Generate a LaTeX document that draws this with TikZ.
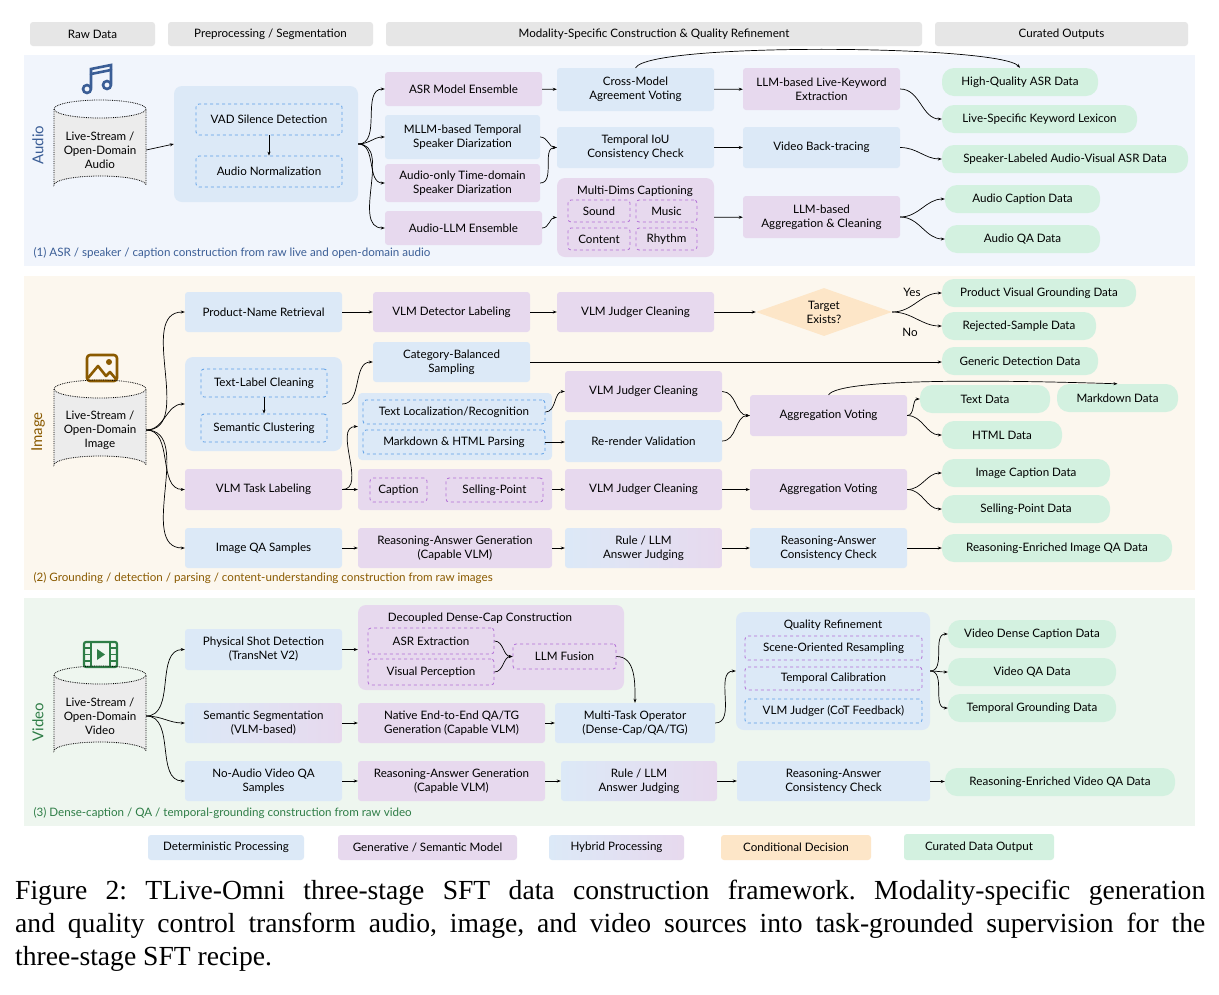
\documentclass[tikz,border=0pt]{standalone}
\usepackage{fontspec}
\setmainfont{Lato}
\newfontfamily\capfont{Liberation Serif}
\usetikzlibrary{shapes.geometric,arrows.meta}
\definecolor{blueF}{HTML}{DCE9F7}
\definecolor{purpF}{HTML}{E7D9EE}
\definecolor{greenF}{HTML}{D3F1E0}
\definecolor{orangeF}{HTML}{FDE6C8}
\definecolor{grayF}{HTML}{E6E6E6}
\definecolor{audBG}{HTML}{F1F5FC}
\definecolor{imgBG}{HTML}{FCF7EE}
\definecolor{vidBG}{HTML}{EEF6EF}
\definecolor{dashB}{HTML}{5B9EE6}
\definecolor{dashP}{HTML}{B26ED6}
\definecolor{audC}{HTML}{3B5E96}
\definecolor{imgC}{HTML}{8A5A00}
\definecolor{vidC}{HTML}{2E7D46}
\newcommand\Bx[7]{\pgfmathsetmacro\bxcx{(#3+#5)/2}\pgfmathsetmacro\bxcy{(#4+#6)/2}\pgfmathsetmacro\bxw{#5-#3}\pgfmathsetmacro\bxh{#6-#4}\node[#1,minimum width=\bxw pt,minimum height=\bxh pt] (#2) at (\bxcx,\bxcy) {#7};}
\tikzset{
 base/.style={rectangle,rounded corners=3pt,inner sep=0pt,align=center,font=\fontsize{11.6}{14}\selectfont},
 det/.style={base,fill=blueF},
 gen/.style={base,fill=purpF},
 hyb/.style={base,left color=blueF,right color=purpF},
 outp/.style={base,fill=greenF,rounded corners=12pt},
 hdr/.style={base,fill=grayF},
 dB/.style={base,draw=dashB,dashed,line width=0.8pt},
 dP/.style={base,draw=dashP,dashed,line width=0.8pt},
 cont/.style={base,rounded corners=8pt},
 ar/.style={-{Stealth[length=4pt,width=3pt]},line width=0.7pt,black},
 cv/.style={ar,out=0,in=180},
 side/.style={font=\fontsize{15}{15}\selectfont,rotate=90},
 tag/.style={anchor=west,font=\fontsize{11.6}{13}\selectfont},
}
\newcommand\Cyl[4]{% name, cx, cy, text
 \fill[gray!15] (#2-46,#3-38) -- (#2-46,#3+38) arc[start angle=180,end angle=360,x radius=46,y radius=9] -- (#2+46,#3-38) arc[start angle=0,end angle=180,x radius=46,y radius=9];
 \draw[densely dotted,line width=0.8pt] (#2-46,#3-38) -- (#2-46,#3+38) arc[start angle=180,end angle=360,x radius=46,y radius=9] -- (#2+46,#3-38);
 \draw[densely dotted,line width=0.8pt] (#2,#3-38) ellipse[x radius=46,y radius=9];
 \node[base,minimum width=92pt,minimum height=80pt] (#1) at (#2,#3+3) {#4};}
\begin{document}
\begin{tikzpicture}[x=1pt,y=-1pt]
\useasboundingbox[fill=white] (0,0) rectangle (1219,994);
% headers
\Bx{hdr}{h1}{30}{22}{155}{46}{Raw Data}
\Bx{hdr}{h2}{168}{22}{373}{46}{Preprocessing / Segmentation}
\Bx{hdr}{h3}{386}{22}{922}{46}{Modality-Specific Construction \& Quality Refinement}
\Bx{hdr}{h4}{935}{22}{1188}{46}{Curated Outputs}
% panels
\fill[audBG] (24,55) rectangle (1195,266);
\fill[imgBG] (24,276) rectangle (1195,590);
\fill[vidBG] (24,598) rectangle (1195,826);
\node[side,text=audC] at (38,145) {Audio};
\node[side,text=imgC] at (38,432) {Image};
\node[side,text=vidC] at (38,722) {Video};
\node[tag,text=audC] at (30,253) {(1) ASR / speaker / caption construction from raw live and open-domain audio};
\node[tag,text=imgC] at (30,578) {(2) Grounding / detection / parsing / content-understanding construction from raw images};
\node[tag,text=vidC] at (30,813) {(3) Dense-caption / QA / temporal-grounding construction from raw video};
% icons
\begin{scope}[audC,line width=2.6pt,line cap=round]
 \draw (91,88) -- (91,69) -- (111,65) -- (111,84);
 \draw (91,74) -- (111,70);
 \draw (87,89) circle[radius=4];
 \draw (107,85) circle[radius=4];
\end{scope}
\begin{scope}[imgC,line width=2.6pt,line join=round]
 \draw[rounded corners=3pt] (87,355) rectangle (117,381);
 \draw (88,378) -- (98,366) -- (106,376) -- (110,372) -- (116,379);
 \fill (109,362) circle[radius=3];
\end{scope}
\begin{scope}[vidC,line width=2.2pt]
 \draw[rounded corners=2pt] (84,642) rectangle (117,667);
 \draw (91,642) -- (91,667) (110,642) -- (110,667);
 \draw[line width=1.4pt] (84,648)--(91,648) (84,654.5)--(91,654.5) (84,661)--(91,661) (110,648)--(117,648) (110,654.5)--(117,654.5) (110,661)--(117,661);
 \fill (97,649) -- (105,654.5) -- (97,660) -- cycle;
\end{scope}
% ---------- AUDIO ----------
\Cyl{ac}{100}{147}{Live-Stream /\\Open-Domain\\Audio}
\Bx{cont,fill=blueF}{pre}{174}{86}{358}{202}{}
\Bx{dB}{vad}{196}{104}{342}{135}{VAD Silence Detection}
\Bx{dB}{norm}{196}{156}{342}{187}{Audio Normalization}
\Bx{gen}{asr}{385}{72}{542}{106}{ASR Model Ensemble}
\Bx{det}{mllm}{385}{115}{540}{159}{MLLM-based Temporal\\Speaker Diarization}
\Bx{gen}{aonly}{385}{164}{540}{202}{Audio-only Time-domain\\Speaker Diarization}
\Bx{gen}{allm}{385}{211}{542}{245}{Audio-LLM Ensemble}
\Bx{det}{cross}{557}{68}{714}{111}{Cross-Model\\Agreement Voting}
\Bx{det}{tiou}{557}{127}{714}{168}{Temporal IoU\\Consistency Check}
\Bx{cont,fill=purpF}{mdc}{557}{178}{714}{257}{}
\node[base] at (635,191) {Multi-Dims Captioning};
\Bx{dP}{snd}{568}{200}{630}{222}{Sound}
\Bx{dP}{mus}{636}{200}{697}{222}{Music}
\Bx{dP}{cnt}{568}{228}{630}{250}{Content}
\Bx{dP}{rhy}{636}{228}{697}{250}{Rhythm}
\Bx{gen}{kw}{743}{68}{900}{110}{LLM-based Live-Keyword\\Extraction}
\Bx{det}{vbt}{743}{127}{900}{168}{Video Back-tracing}
\Bx{gen}{agg}{743}{196}{900}{238}{LLM-based\\Aggregation \& Cleaning}
\Bx{outp}{hq}{942}{68}{1098}{96}{High-Quality ASR Data}
\Bx{outp}{lex}{942}{105}{1137}{133}{Live-Specific Keyword Lexicon}
\Bx{outp}{spk}{942}{145}{1188}{173}{Speaker-Labeled Audio-Visual ASR Data}
\Bx{outp}{acap}{945}{185}{1100}{213}{Audio Caption Data}
\Bx{outp}{aqa}{945}{225}{1100}{253}{Audio QA Data}
\draw[ar] (ac.east) -- (pre.west);
\draw[ar] (vad.south) -- (norm.north);
\foreach \t in {asr,mllm,aonly,allm} \draw[cv] (pre.east) to (\t.west);
\draw[ar] (asr) -- (cross);
\draw[cv] (mllm.east) to (tiou.west);
\draw[cv] (aonly.east) to (tiou.west);
\draw[cv] (allm.east) to (mdc.west);
\draw[ar] (cross) -- (kw);
\draw[ar] (tiou) -- (vbt);
\draw[ar] (mdc) -- (agg);
\draw[ar] (cross.north) .. controls (650,42) and (1000,45) .. (hq.north);
\draw[cv] (kw.east) to (lex.west);
\draw[cv] (vbt.east) to (spk.west);
\draw[cv] (agg.east) to (acap.west);
\draw[cv] (agg.east) to (aqa.west);
% ---------- IMAGE ----------
\Cyl{ic}{100}{427}{Live-Stream /\\Open-Domain\\Image}
\Bx{det}{pnr}{185}{292}{342}{332}{Product-Name Retrieval}
\Bx{cont,fill=blueF}{c1}{185}{357}{342}{451}{}
\Bx{dB}{tlc}{201}{369}{327}{397}{Text-Label Cleaning}
\Bx{dB}{sc}{201}{414}{327}{442}{Semantic Clustering}
\Bx{gen}{vtl}{185}{469}{342}{510}{VLM Task Labeling}
\Bx{det}{iqa}{185}{528}{342}{568}{Image QA Samples}
\Bx{gen}{vdl}{373}{292}{530}{332}{VLM Detector Labeling}
\Bx{det}{cbs}{373}{342}{530}{382}{Category-Balanced\\Sampling}
\Bx{cont,fill=blueF,rounded corners=4pt}{c2}{358}{393}{552}{460}{}
\Bx{dB}{tloc}{363}{400}{545}{424}{Text Localization/Recognition}
\Bx{dB}{mdp}{363}{430}{545}{454}{Markdown \& HTML Parsing}
\Bx{gen}{c3}{358}{469}{552}{510}{}
\Bx{dP}{capn}{370}{478}{427}{502}{Caption}
\Bx{dP}{selp}{446}{478}{543}{502}{Selling-Point}
\Bx{gen}{rag}{358}{528}{552}{568}{Reasoning-Answer Generation\\(Capable VLM)}
\Bx{gen}{vj1}{557}{292}{714}{332}{VLM Judger Cleaning}
\Bx{gen}{vj2}{565}{371}{722}{412}{VLM Judger Cleaning}
\Bx{det}{rrv}{565}{420}{722}{462}{Re-render Validation}
\Bx{gen}{vj3}{565}{469}{722}{510}{VLM Judger Cleaning}
\Bx{hyb}{rule}{565}{528}{722}{568}{Rule / LLM\\Answer Judging}
\node[diamond,fill=orangeF,inner sep=0pt,aspect=2.8,minimum width=136pt,minimum height=48pt,align=center,font=\fontsize{11.6}{14}\selectfont] (dia) at (824,312) {Target\\Exists?};
\Bx{gen}{av1}{750}{395}{907}{436}{Aggregation Voting}
\Bx{gen}{av2}{750}{469}{907}{510}{Aggregation Voting}
\Bx{det}{rac}{750}{528}{907}{568}{Reasoning-Answer\\Consistency Check}
\Bx{outp}{pvg}{942}{279}{1136}{307}{Product Visual Grounding Data}
\Bx{outp}{rej}{942}{312}{1096}{340}{Rejected-Sample Data}
\Bx{outp}{gdd}{942}{347}{1098}{375}{Generic Detection Data}
\Bx{outp}{txt}{920}{385}{1050}{413}{Text Data}
\Bx{outp}{md}{1057}{384}{1178}{412}{Markdown Data}
\Bx{outp}{html}{942}{421}{1062}{449}{HTML Data}
\Bx{outp}{icap}{942}{459}{1110}{487}{Image Caption Data}
\Bx{outp}{spd}{942}{495}{1110}{523}{Selling-Point Data}
\Bx{outp}{riq}{942}{534}{1172}{562}{Reasoning-Enriched Image QA Data}
\node[base] (yes) at (912,292) {Yes};
\node[base] (no) at (910,332) {No};
\foreach \t in {pnr,c1,vtl,iqa} \draw[cv] (ic.east) to (\t.west);
\draw[ar] (pnr) -- (vdl);
\draw[ar] (vdl) -- (vj1);
\draw[ar] (vj1) -- (dia);
\draw[cv] (dia.east) to (pvg.west);
\draw[cv] (dia.east) to (rej.west);
\draw[ar] (tlc.south) -- (sc.north);
\draw[cv] (c1.east) to (cbs.west);
\draw[ar] (cbs.east) -- (cbs.east -| gdd.west);
\draw[ar] (vtl.east) to[out=0,in=180] (c2.west);
\draw[ar] (vtl.east) -- (c3.west);
\draw[cv] (tloc.east) to (vj2.west);
\draw[ar] (mdp.east) -- (rrv.west |- mdp.east);
\draw[cv] (vj2.east) to (av1.west);
\draw[cv] (rrv.east) to (av1.west);
\draw[cv] (av1.east) to (txt.west);
\draw[cv] (av1.east) to (html.west);
\draw[ar] (av1.north) .. controls (840,378) and (1000,380) .. (md.north);
\draw[ar] (c3) -- (vj3);
\draw[ar] (vj3) -- (av2);
\draw[cv] (av2.east) to (icap.west);
\draw[cv] (av2.east) to (spd.west);
\draw[ar] (iqa) -- (rag);
\draw[ar] (rag) -- (rule);
\draw[ar] (rule) -- (rac);
\draw[ar] (rac) -- (riq);
% ---------- VIDEO ----------
\Cyl{vc}{100}{713}{Live-Stream /\\Open-Domain\\Video}
\Bx{det}{psd}{185}{629}{342}{670}{Physical Shot Detection\\(TransNet V2)}
\Bx{hyb}{ss}{185}{703}{342}{743}{Semantic Segmentation\\(VLM-based)}
\Bx{det}{naq}{185}{761}{342}{801}{No-Audio Video QA\\Samples}
\Bx{cont,fill=purpF}{ddc}{358}{605}{624}{690}{}
\node[base] at (480,618) {Decoupled Dense-Cap Construction};
\Bx{dP}{asrx}{368}{628}{494}{654}{ASR Extraction}
\Bx{dP}{vp}{368}{659}{494}{685}{Visual Perception}
\Bx{dP}{fus}{513}{644}{616}{669}{LLM Fusion}
\Bx{gen}{nat}{358}{703}{545}{743}{Native End-to-End QA/TG\\Generation (Capable VLM)}
\Bx{gen}{rag2}{358}{761}{545}{801}{Reasoning-Answer Generation\\(Capable VLM)}
\Bx{det}{mto}{555}{703}{715}{743}{Multi-Task Operator\\(Dense-Cap/QA/TG)}
\Bx{hyb}{rule2}{561}{761}{717}{801}{Rule / LLM\\Answer Judging}
\Bx{cont,fill=blueF}{qr}{736}{612}{930}{730}{}
\node[base] at (833,625) {Quality Refinement};
\Bx{dP}{sor}{745}{636}{922}{660}{Scene-Oriented Resampling}
\Bx{dP}{tcal}{745}{667}{922}{690}{Temporal Calibration}
\Bx{dB}{vjc}{745}{699}{922}{723}{VLM Judger (CoT Feedback)}
\Bx{det}{rac2}{737}{761}{930}{801}{Reasoning-Answer\\Consistency Check}
\Bx{outp}{vdc}{948}{620}{1116}{648}{Video Dense Caption Data}
\Bx{outp}{vqa}{948}{658}{1116}{686}{Video QA Data}
\Bx{outp}{tgd}{948}{694}{1116}{722}{Temporal Grounding Data}
\Bx{outp}{rvq}{945}{768}{1175}{796}{Reasoning-Enriched Video QA Data}
\foreach \t in {psd,ss,naq} \draw[cv] (vc.east) to (\t.west);
\draw[ar] (psd.east) -- (psd.east -| ddc.west);
\draw[cv] (asrx.east) to (fus.west);
\draw[cv] (vp.east) to (fus.west);
\draw[ar] (fus.east) to[out=0,in=90] (mto.north);
\draw[ar] (ss) -- (nat);
\draw[ar] (nat) -- (mto);
\draw[ar] (mto.east) to[out=0,in=180] (qr.west);
\foreach \t in {vdc,vqa,tgd} \draw[cv] (qr.east) to (\t.west);
\draw[ar] (naq) -- (rag2);
\draw[ar] (rag2) -- (rule2);
\draw[ar] (rule2) -- (rac2);
\draw[ar] (rac2) -- (rvq);
% legend
\Bx{det}{l1}{148}{835}{304}{860}{Deterministic Processing}
\Bx{gen}{l2}{338}{835}{517}{860}{Generative / Semantic Model}
\Bx{hyb}{l3}{549}{835}{684}{860}{Hybrid Processing}
\Bx{base,fill=orangeF}{l4}{721}{835}{871}{860}{Conditional Decision}
\Bx{outp,rounded corners=3pt}{l5}{904}{834}{1054}{860}{Curated Data Output}
% caption
\node[anchor=north west,inner sep=0pt,text width=1190pt,align=justify,font=\capfont\fontsize{27.6}{33}\selectfont] (cap) at (15,880) {\frenchspacing Figure 2: TLive-Omni three-stage SFT data construction framework. Modality-specific generation\linebreak and quality control transform audio, image, and video sources into task-grounded supervision for the\linebreak three-stage SFT recipe.};
\end{tikzpicture}
\end{document}
